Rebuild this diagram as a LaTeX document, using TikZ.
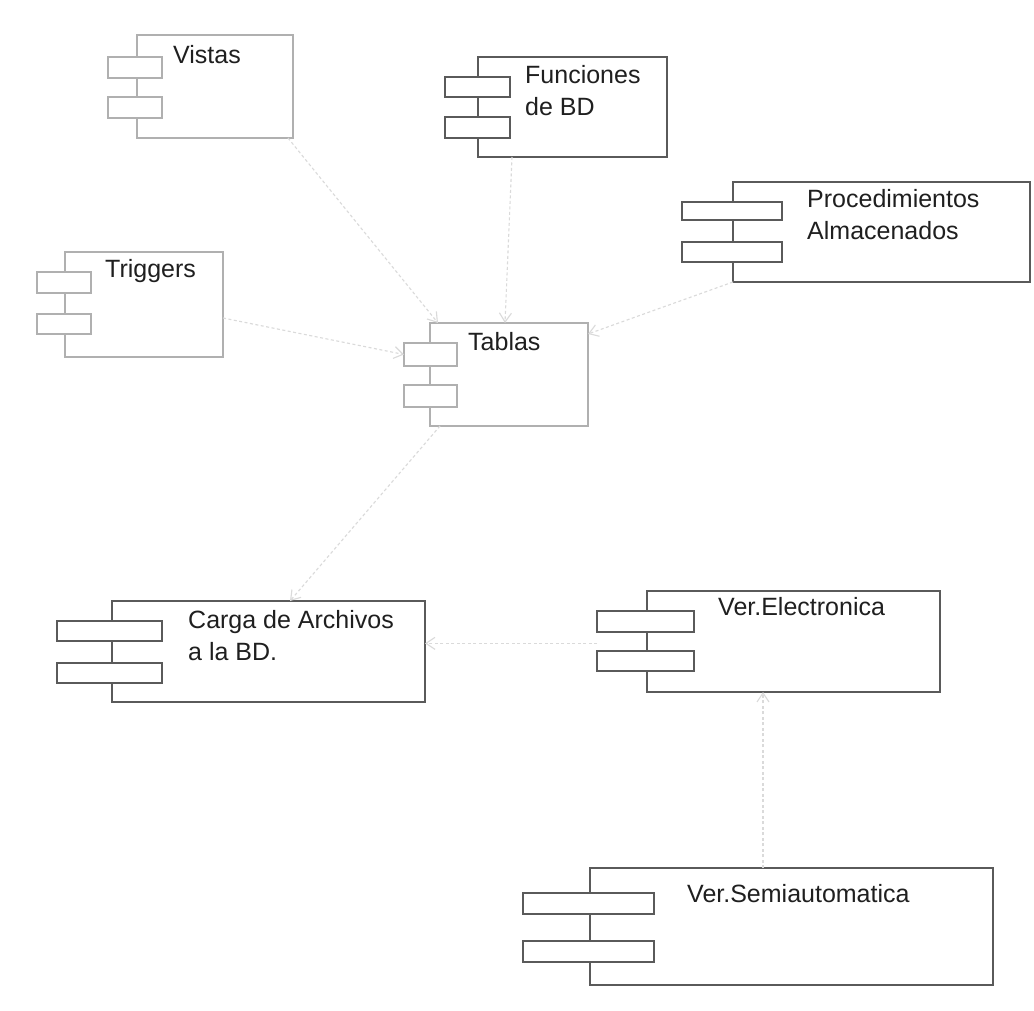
\documentclass[tikz,border=0pt]{standalone}
\usepackage{fontspec}
\setmainfont{Liberation Sans}
\usetikzlibrary{arrows.meta,calc}
\definecolor{edgedark}{HTML}{5A5A5A}
\definecolor{edgelight}{HTML}{B0B0B0}
\definecolor{wire}{HTML}{DADADA}
\begin{document}
\begin{tikzpicture}[x=1pt,y=-1pt,
  body/.style={fill=white, inner sep=0pt, outer sep=0pt, anchor=north west},
  dark/.style={draw=edgedark, line width=1.5pt},
  light/.style={draw=edgelight, line width=1.1pt},
  ctext/.style={anchor=north west, inner sep=0pt, align=left,
    font=\fontsize{25}{32}\selectfont, text=black!88},
  dep/.style={draw=wire, line width=1.1pt, dash pattern=on 3pt off 2.5pt,
    -{Straight Barb[length=9pt,width=12pt]}}
]
\useasboundingbox (0,0) rectangle (1034,1011);
\fill[white] (0,0) rectangle (1034,1011);

% Vistas
\node[body, light, minimum width=156pt, minimum height=103pt] (vis) at (137,35) {};
\node[body, light, minimum width=54pt, minimum height=21pt] (vis-p1) at (108,57) {};
\node[body, light, minimum width=54pt, minimum height=21pt] (vis-p2) at (108,97) {};
\node[ctext] (vis-t) at (173,45) {Vistas};

% Funciones de BD
\node[body, dark, minimum width=189pt, minimum height=100pt] (fun) at (478,57) {};
\node[body, dark, minimum width=65pt, minimum height=20pt] (fun-p1) at (445,77) {};
\node[body, dark, minimum width=65pt, minimum height=21pt] (fun-p2) at (445,117) {};
\node[ctext] (fun-t) at (525,65) {Funciones\\de BD};

% Procedimientos Almacenados
\node[body, dark, minimum width=297pt, minimum height=100pt] (pro) at (733,182) {};
\node[body, dark, minimum width=100pt, minimum height=18pt] (pro-p1) at (682,202) {};
\node[body, dark, minimum width=100pt, minimum height=20pt] (pro-p2) at (682,242) {};
\node[ctext] (pro-t) at (807,189) {Procedimientos\\Almacenados};

% Triggers
\node[body, light, minimum width=158pt, minimum height=105pt] (tri) at (65,252) {};
\node[body, light, minimum width=54pt, minimum height=21pt] (tri-p1) at (37,272) {};
\node[body, light, minimum width=54pt, minimum height=20pt] (tri-p2) at (37,314) {};
\node[ctext] (tri-t) at (105,259) {Triggers};

% Tablas
\node[body, light, minimum width=158pt, minimum height=103pt] (tab) at (430,323) {};
\node[body, light, minimum width=53pt, minimum height=23pt] (tab-p1) at (404,343) {};
\node[body, light, minimum width=53pt, minimum height=22pt] (tab-p2) at (404,385) {};
\node[ctext] (tab-t) at (468,332) {Tablas};

% Carga de Archivos a la BD.
\node[body, dark, minimum width=313pt, minimum height=101pt] (car) at (112,601) {};
\node[body, dark, minimum width=105pt, minimum height=20pt] (car-p1) at (57,621) {};
\node[body, dark, minimum width=105pt, minimum height=20pt] (car-p2) at (57,663) {};
\node[ctext] (car-t) at (188,610) {Carga de Archivos\\a la BD.};

% Ver.Electronica
\node[body, dark, minimum width=293pt, minimum height=101pt] (ele) at (647,591) {};
\node[body, dark, minimum width=97pt, minimum height=21pt] (ele-p1) at (597,611) {};
\node[body, dark, minimum width=97pt, minimum height=20pt] (ele-p2) at (597,651) {};
\node[ctext] (ele-t) at (718,597) {Ver.Electronica};

% Ver.Semiautomatica
\node[body, dark, minimum width=403pt, minimum height=117pt] (sem) at (590,868) {};
\node[body, dark, minimum width=131pt, minimum height=21pt] (sem-p1) at (523,893) {};
\node[body, dark, minimum width=131pt, minimum height=21pt] (sem-p2) at (523,941) {};
\node[ctext] (sem-t) at (687,884) {Ver.Semiautomatica};

% dependencies
\coordinate (vis-out) at ($(vis.south east)+(-5,0)$);
\coordinate (tab-in1) at ($(tab.north west)+(8,0)$);
\coordinate (fun-out) at ($(fun.south west)+(34,0)$);
\coordinate (tab-in2) at ($(tab.north west)+(75,0)$);
\coordinate (tab-in3) at ($(tab.north east)+(0,11)$);
\coordinate (tri-out) at ($(tri.north east)+(0,66)$);
\coordinate (ele-out) at ($(ele-p1.south west)!0.6!(ele-p2.north west)$);
\coordinate (sem-out) at ($(sem.north west)+(173,0)$);
\coordinate (tab-out) at ($(tab.south west)+(10,0)$);
\coordinate (car-in) at ($(car.north west)+(178,0)$);

\draw[dep] (vis-out) -- (tab-in1);
\draw[dep] (fun-out) -- (tab-in2);
\draw[dep] (pro.south west) -- (tab-in3);
\draw[dep] (tri-out) -- (tab-p1.west);
\draw[dep] (ele-out) -- (ele-out -| car.east);
\draw[dep] (sem-out) -- (sem-out |- ele.south);
\draw[dep] (tab-out) -- (car-in);
\end{tikzpicture}
\end{document}
